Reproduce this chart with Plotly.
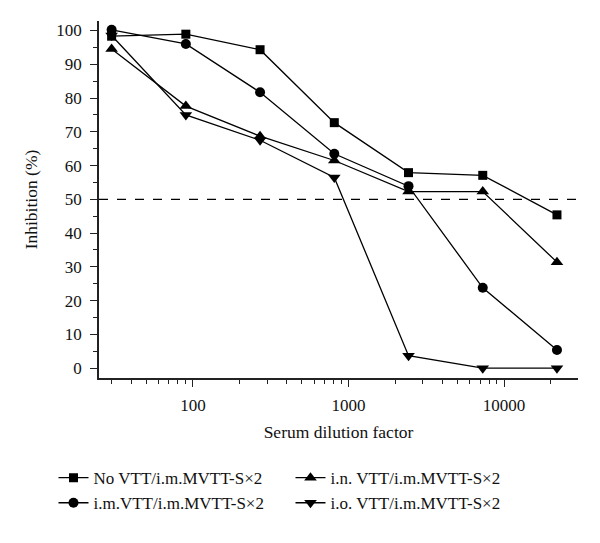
import plotly.graph_objects as go

dilutions = [30, 90, 270, 810, 2430, 7290, 21870]
names = ["No VTT/i.m.MVTT-S\u00d72", "i.n. VTT/i.m.MVTT-S\u00d72",
         "i.m.VTT/i.m.MVTT-S\u00d72", "i.o. VTT/i.m.MVTT-S\u00d72"]
no_vtt = [98.3, 98.9, 94.3, 72.7, 57.9, 57.1, 45.4]
in_vtt = [94.5, 77.6, 68.7, 61.5, 52.3, 52.3, 31.4]
im_vtt = [100.2, 96.0, 81.7, 63.5, 53.9, 23.8, 5.4]
io_vtt = [98.5, 75.0, 67.5, 56.5, 3.7, 0.0, 0.0]
threshold = 50

series = [no_vtt, in_vtt, im_vtt, io_vtt]
symbols = ["square", "triangle-up", "circle", "triangle-down"]
sizes = [9, 11, 10, 11]

FONT = "Liberation Serif, DejaVu Serif, serif"
fig = go.Figure()
for n, y, s, sz in zip(names, series, symbols, sizes):
    fig.add_trace(go.Scatter(x=dilutions, y=y, name=n, mode="lines+markers",
                             line=dict(color="black", width=1.3),
                             marker=dict(symbol=s, size=sz, color="black")))

fig.add_shape(type="line", xref="paper", x0=0, x1=1, y0=threshold, y1=threshold,
              line=dict(color="black", width=1.3, dash="dash"))

fig.update_layout(
    width=600, height=543,
    margin=dict(l=99, r=22, t=21, b=165, autoexpand=False),
    plot_bgcolor="white", paper_bgcolor="white",
    font=dict(family=FONT, size=17, color="#111"),
    showlegend=True,
    legend=dict(orientation="h", x=-0.095, xanchor="left", y=-0.23, yanchor="top",
                entrywidth=192, entrywidthmode="pixels", font=dict(size=17, family=FONT),
                tracegroupgap=0, itemwidth=30),
    xaxis=dict(type="log", range=[1.396, 4.475], showline=True, linecolor="#222",
               linewidth=1.5, ticks="outside", ticklen=7, tickcolor="#222",
               tickvals=[100, 1000, 10000], ticktext=["100", "1000", "10000"],
               showgrid=False, zeroline=False, ticklabelstandoff=4,
               minor=dict(ticks="outside", ticklen=4, tickcolor="#222",
                          tickvals=[30, 40, 50, 60, 70, 80, 90, 200, 300, 400, 500, 600, 700, 800, 900,
                                    2000, 3000, 4000, 5000, 6000, 7000, 8000, 9000, 20000]),
               title=dict(text="Serum dilution factor", font=dict(size=17.5, family=FONT), standoff=12)),
    yaxis=dict(range=[-2.9, 102.8], showline=True, linecolor="#222", linewidth=1.5,
               ticks="outside", ticklen=7, tickcolor="#222", dtick=10, tick0=0,
               showgrid=False, zeroline=False, ticklabelstandoff=5,
               minor=dict(ticks="outside", ticklen=4, dtick=5, tick0=0, tickcolor="#222"),
               title=dict(text="Inhibition (%)", font=dict(size=17.5, family=FONT), standoff=14)),
)

fig.write_html("out.html", config={"displayModeBar": False},
               post_script="document.body.style.margin='0';")
